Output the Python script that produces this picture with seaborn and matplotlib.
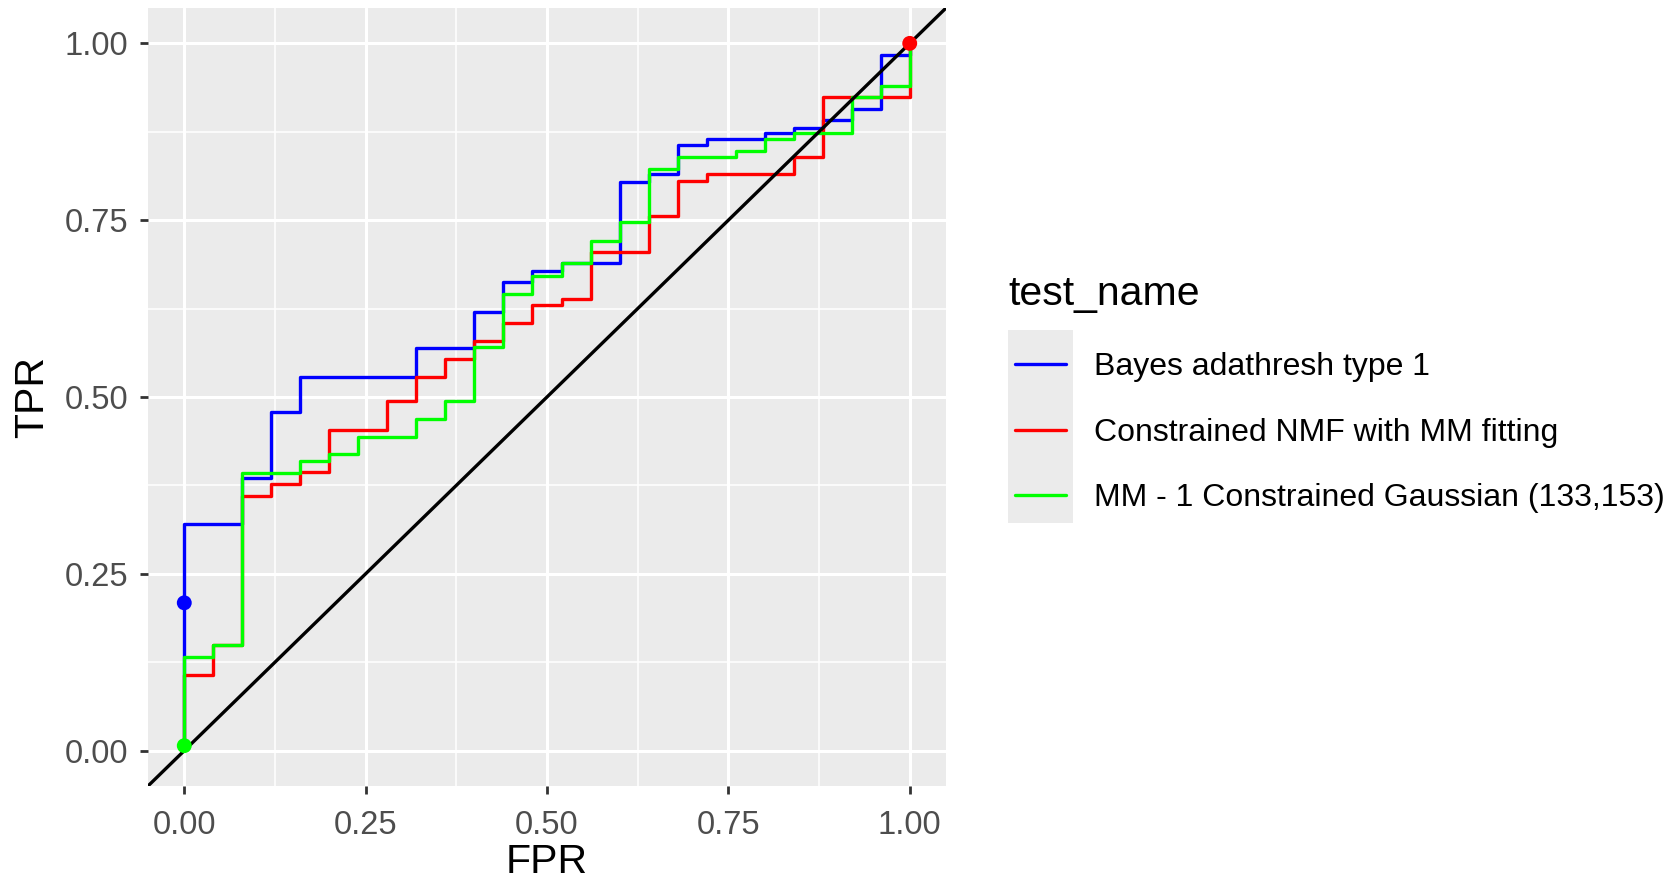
import matplotlib
matplotlib.use("Agg")
import matplotlib.pyplot as plt
from matplotlib.patches import Rectangle
from matplotlib.lines import Line2D
import seaborn as sns
import pandas as pd

# ---- data ----
series_names = ["Bayes adathresh type 1",
                "Constrained NMF with MM fitting",
                "MM - 1 Constrained Gaussian (133,153)"]
series_colors = ["#0000FF", "#FF0000", "#00FF00"]

bayes_fpr = [0, 0, 0.08, 0.12, 0.16, 0.32, 0.40, 0.44, 0.48, 0.52, 0.60, 0.64, 0.68,
             0.72, 0.80, 0.84, 0.88, 0.92, 0.96, 1.00]
bayes_tpr = [0.007, 0.320, 0.386, 0.479, 0.528, 0.569, 0.620, 0.663, 0.678, 0.689, 0.804,
             0.816, 0.856, 0.865, 0.873, 0.881, 0.891, 0.907, 0.983, 1.000]

nmf_fpr = [0, 0, 0.04, 0.08, 0.12, 0.16, 0.20, 0.28, 0.32, 0.36, 0.40, 0.44, 0.48, 0.52,
           0.56, 0.64, 0.68, 0.72, 0.84, 0.88, 1.00]
nmf_tpr = [0.007, 0.1075, 0.149, 0.360, 0.377, 0.394, 0.453, 0.494, 0.528, 0.554, 0.579,
           0.605, 0.630, 0.638, 0.705, 0.756, 0.805, 0.815, 0.840, 0.924, 1.000]

mm_fpr = [0, 0, 0.04, 0.08, 0.16, 0.20, 0.24, 0.32, 0.36, 0.40, 0.44, 0.48, 0.52, 0.56,
          0.60, 0.64, 0.68, 0.76, 0.80, 0.84, 0.92, 0.96, 1.00]
mm_tpr = [0.007, 0.133, 0.149, 0.392, 0.410, 0.419, 0.444, 0.469, 0.494, 0.571, 0.646,
          0.671, 0.689, 0.721, 0.748, 0.822, 0.840, 0.848, 0.865, 0.873, 0.924, 0.940, 1.000]

point_names = series_names
point_fpr = [0.0, 1.0, 0.0]
point_tpr = [0.209, 1.0, 0.007]

x_ticks = [0.00, 0.25, 0.50, 0.75, 1.00]
y_ticks = [0.00, 0.25, 0.50, 0.75, 1.00]
x_minor = [0.125, 0.375, 0.625, 0.875]
y_minor = [0.125, 0.375, 0.625, 0.875]
x_label = "FPR"
y_label = "TPR"
legend_title = "test_name"

# ---- build frames ----
frames = []
for name, fxv, tyv in zip(series_names, [bayes_fpr, nmf_fpr, mm_fpr],
                          [bayes_tpr, nmf_tpr, mm_tpr]):
    frames.append(pd.DataFrame({"FPR": fxv, "TPR": tyv, "test_name": name}))
df = pd.concat(frames, ignore_index=True)
pts = pd.DataFrame({"FPR": point_fpr, "TPR": point_tpr, "test_name": point_names})
palette = dict(zip(series_names, series_colors))

# ---- style ----
sns.set_theme(style="darkgrid")
plt.rcParams["font.family"] = ["Liberation Sans", "DejaVu Sans"]

W, H, DPI = 1680, 882, 100
fig = plt.figure(figsize=(W / DPI, H / DPI), dpi=DPI, facecolor="white")

def fx(px):
    return px / W

def fy(py):
    return 1 - py / H

left, right, top, bottom = 148, 946, 8, 786
ax = fig.add_axes([fx(left), fy(bottom), fx(right) - fx(left), fy(top) - fy(bottom)])
ax.set_facecolor("#EBEBEB")
for s in ax.spines.values():
    s.set_visible(False)

sns.lineplot(data=df, x="FPR", y="TPR", hue="test_name", palette=palette,
             estimator=None, sort=False, drawstyle="steps-post",
             linewidth=2.4, legend=False, ax=ax, zorder=3)
ax.axline((0, 0), slope=1, color="black", linewidth=2.4, zorder=4)
sns.scatterplot(data=pts, x="FPR", y="TPR", hue="test_name", palette=palette,
                s=115, linewidth=0, legend=False, ax=ax, zorder=5)

ax.set_xlim(-0.05, 1.05)
ax.set_ylim(-0.05, 1.05)
ax.set_xticks(x_ticks)
ax.set_yticks(y_ticks)
ax.set_xticks(x_minor, minor=True)
ax.set_yticks(y_minor, minor=True)
ax.set_xticklabels([f"{v:.2f}" for v in x_ticks])
ax.set_yticklabels([f"{v:.2f}" for v in y_ticks])
ax.grid(True, which="major", color="white", linewidth=2.2)
ax.grid(True, which="minor", color="white", linewidth=1.1)
ax.set_axisbelow(True)
ax.tick_params(axis="x", which="major", length=6, width=2, color="#333333",
               labelsize=23.5, labelcolor="#4D4D4D", pad=11, bottom=True)
ax.tick_params(axis="y", which="major", length=6, width=2, color="#333333",
               labelsize=23.5, labelcolor="#4D4D4D", pad=8, left=True)
ax.tick_params(axis="both", which="minor", length=0)
ax.set_xlabel(x_label, fontsize=29.5, color="black", labelpad=2)
ax.set_ylabel(y_label, fontsize=29.5, color="black", labelpad=10)

# ---- legend (ggplot style) ----
fig.text(fx(1008), fy(294), legend_title, fontsize=29.5, color="black",
         ha="left", va="center")
fig.add_artist(Rectangle((fx(1008), fy(523)), fx(1073) - fx(1008), fy(330) - fy(523),
                         transform=fig.transFigure, facecolor="#EBEBEB",
                         edgecolor="none", zorder=1))
row_y = [364, 430, 495]
for name, col, ry in zip(series_names, series_colors, row_y):
    fig.add_artist(Line2D([fx(1015), fx(1066)], [fy(ry), fy(ry)],
                          transform=fig.transFigure, color=col, linewidth=2.4,
                          zorder=2))
    fig.text(fx(1094), fy(ry + 3), name, fontsize=23, color="black",
             ha="left", va="center")

fig.savefig("out.png", dpi=DPI, facecolor="white")
